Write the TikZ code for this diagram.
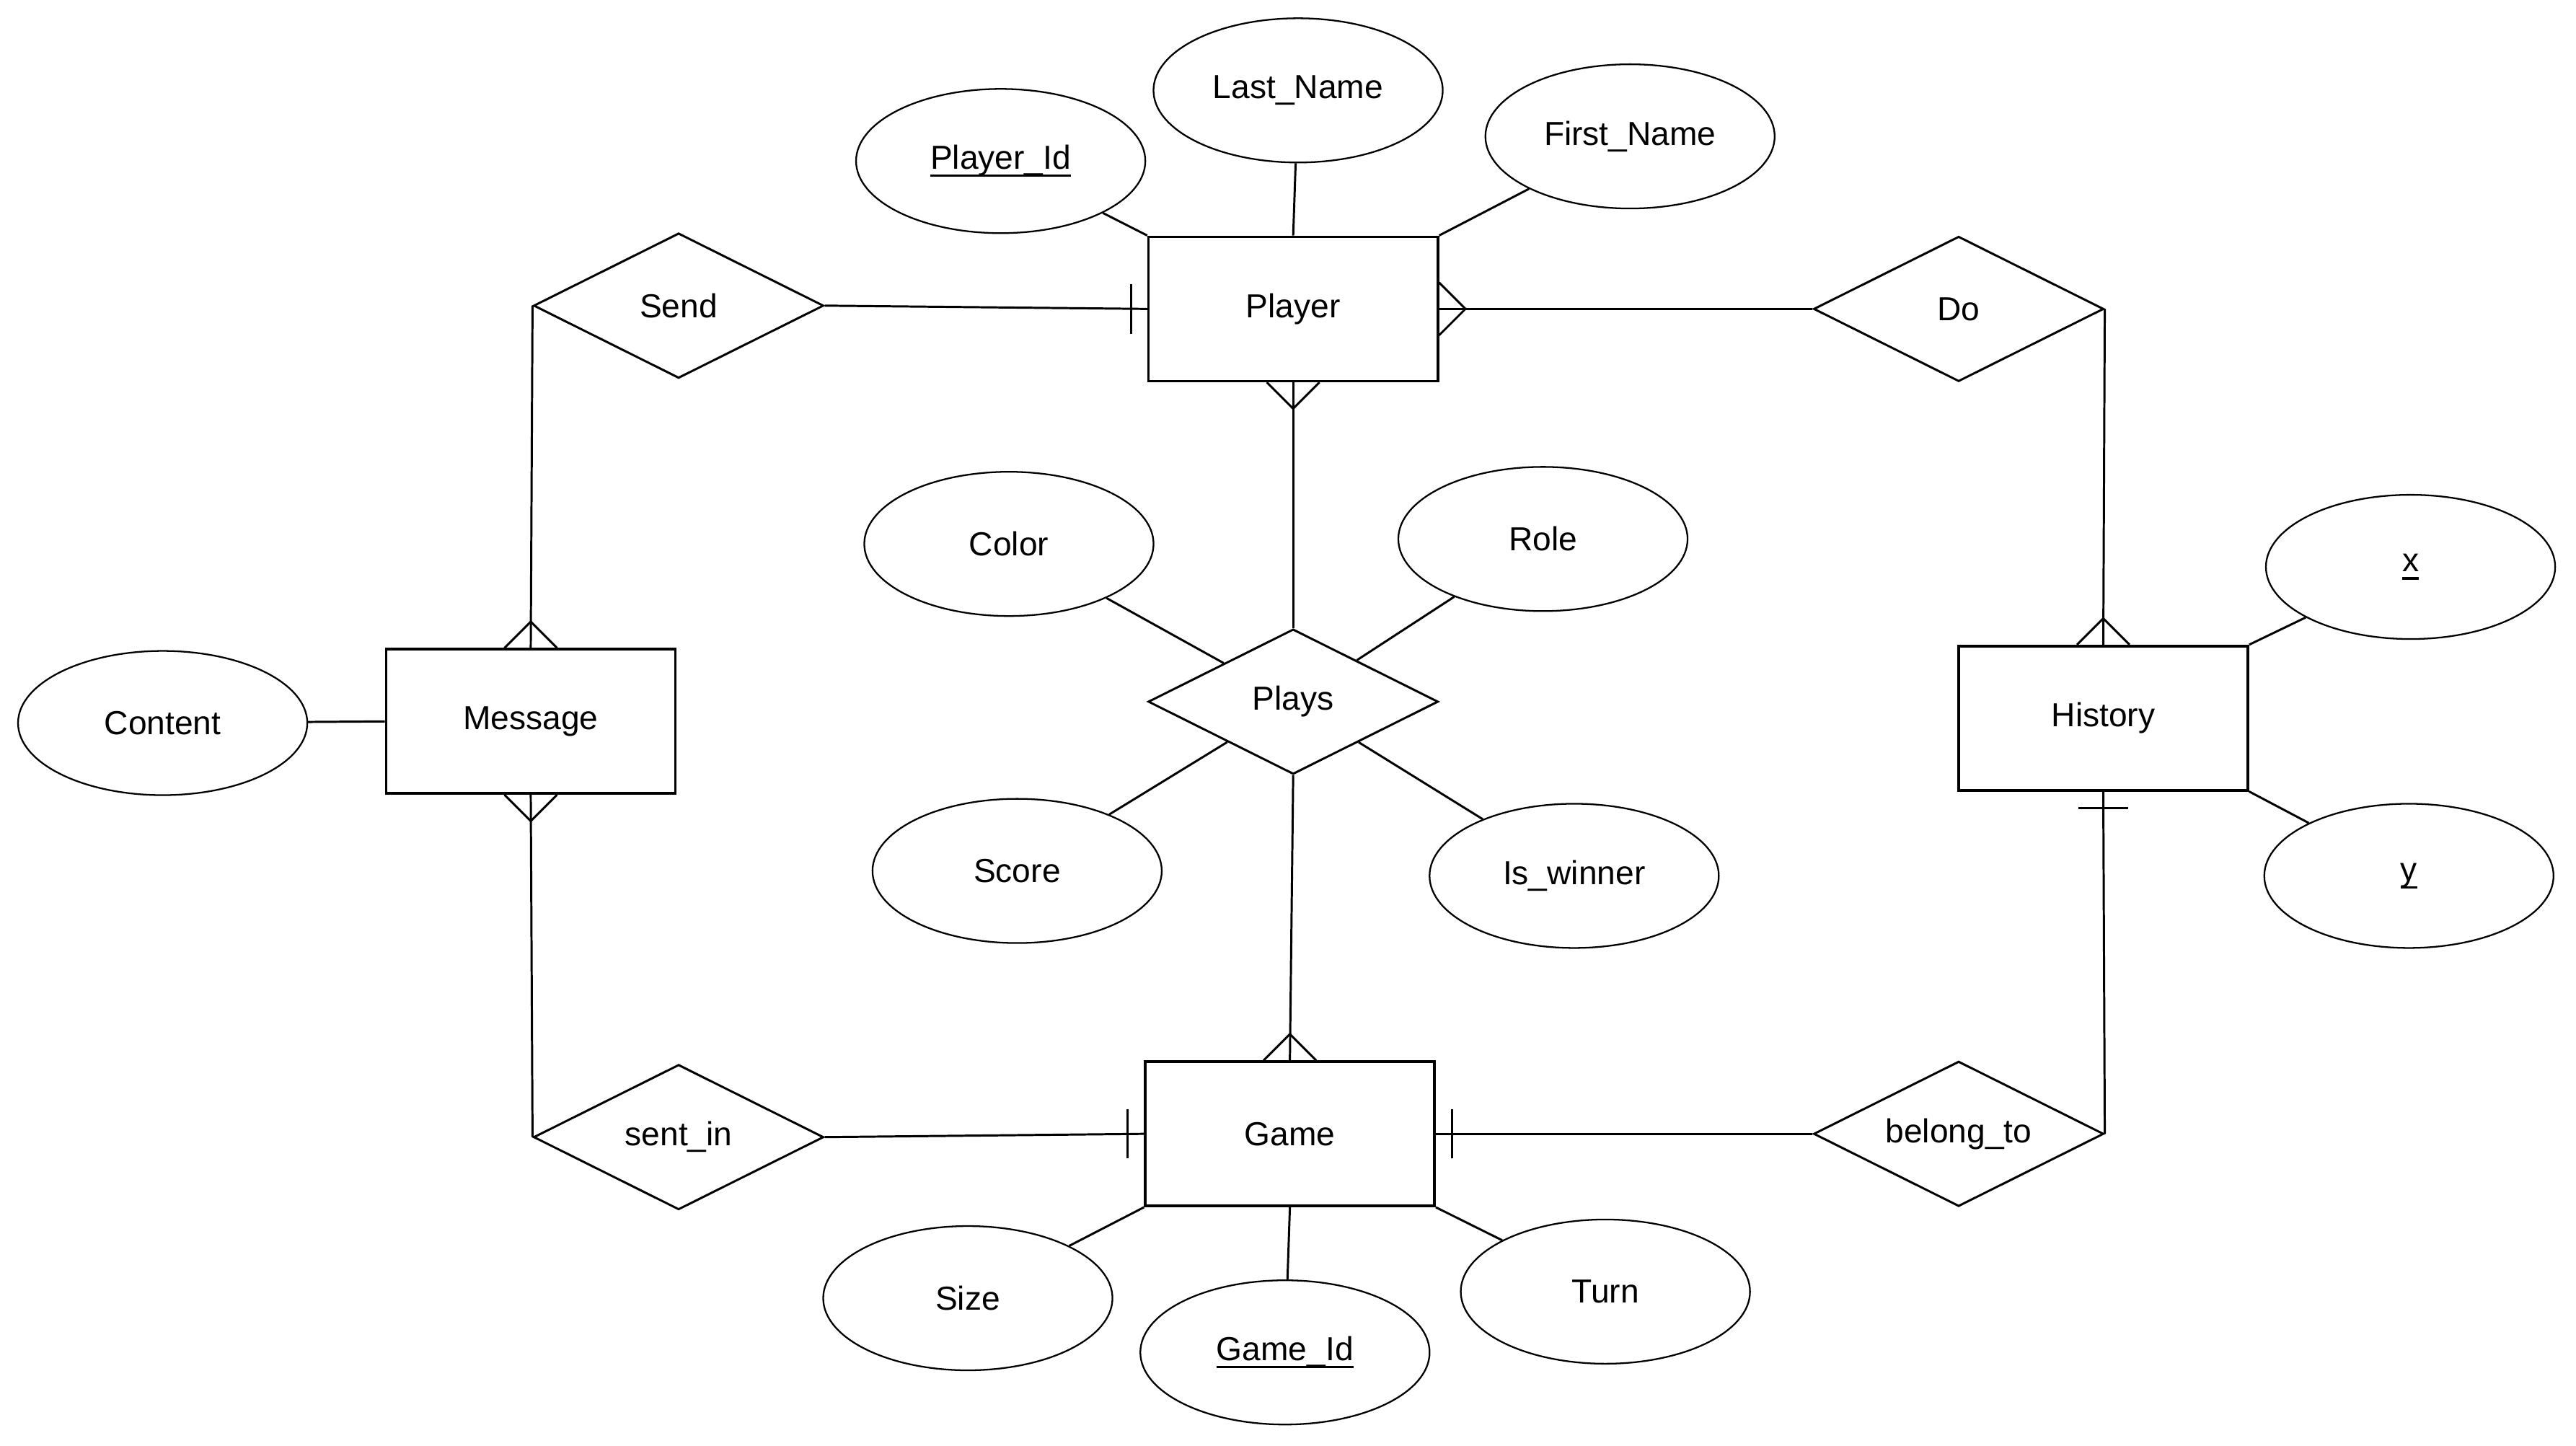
\documentclass[tikz,border=0pt]{standalone}
\usepackage{fontspec}
\setmainfont{Liberation Sans}
\usetikzlibrary{shapes.geometric,calc}
\newcommand\crowfoot[3]{\draw[conn] ($(#1)+(#3)$) -- ($(#1)+(#2)$) -- ($(#1)-(#3)$);}
\newcommand\onebar[3]{\draw[conn] ($(#1)+(#2)+(#3)$) -- ($(#1)+(#2)-(#3)$);}
\newcommand\keyul[1]{\setbox0\hbox{#1}\rlap{\rule[-4.7pt]{\wd0}{1.4pt}}\box0}
\begin{document}
\begin{tikzpicture}[x=0.997pt,y=-0.997pt,
  lbl/.style={font=\fontsize{20.2}{24}\selectfont},
  ent/.style={lbl,draw,line width=1.6pt,minimum width=175.5pt,minimum height=87.5pt,inner sep=0pt},
  rel/.style={lbl,draw,diamond,aspect=2,line width=1.3pt,minimum width=176pt,minimum height=88pt,inner sep=0pt},
  attr/.style={lbl,draw,ellipse,line width=1pt,minimum width=175.5pt,minimum height=87.5pt,inner sep=0pt},
  conn/.style={line width=1.3pt}]
\useasboundingbox (0,0) rectangle (1567.7,879.6);
% entities
\node[ent] (P) at (787,188) {Player};
\node[ent] (M) at (323,439) {Message};
\node[ent] (H) at (1280,437) {History};
\node[ent] (G) at (785,690) {Game};
% relationships
\node[rel] (S) at (413,186) {Send};
\node[rel] (D) at (1192,188) {Do};
\node[rel] (PL) at (787,427) {Plays};
\node[rel] (SI) at (413,692) {sent\_in};
\node[rel] (B) at (1192,690) {belong\_to};
% attributes
\node[attr] (PId) at (609,98) {\keyul{Player\_Id}};
\node[attr] (LN) at (790,55) {Last\_Name};
\node[attr] (FN) at (992,83) {First\_Name};
\node[attr] (C) at (614,331) {Color};
\node[attr] (R) at (939,328) {Role};
\node[attr] (Sc) at (619,530) {Score};
\node[attr] (W) at (958,533) {Is\_winner};
\node[attr] (Ct) at (99,440) {Content};
\node[attr] (X) at (1467,345) {\keyul{x}};
\node[attr] (Y) at (1466,533) {\keyul{y}};
\node[attr] (Sz) at (589,790) {Size};
\node[attr] (GId) at (782,823) {\keyul{Game\_Id}};
\node[attr] (T) at (977,786) {Turn};
% attribute links
\draw[conn] (PId) -- (P.north west);
\draw[conn] (LN) -- (P.north);
\draw[conn] (FN) -- (P.north east);
\draw[conn] (C) -- (PL);
\draw[conn] (R) -- (PL);
\draw[conn] (Sc) -- (PL);
\draw[conn] (W) -- (PL);
\draw[conn] (Ct) -- (M.west);
\draw[conn] (X) -- (H.north east);
\draw[conn] (Y) -- (H.south east);
\draw[conn] (Sz) -- (G.south west);
\draw[conn] (GId) -- (G.south);
\draw[conn] (T) -- (G.south east);
% relationship links
\draw[conn] (S.east) -- (P.west);
\onebar{P.west}{-10,0}{0,15}
\draw[conn] (P.east) -- (D.west);
\crowfoot{P.east}{16,0}{0,16}
\draw[conn] (P.south) -- (PL.north);
\crowfoot{P.south}{0,16}{16,0}
\draw[conn] (S.west) -- (M.north);
\crowfoot{M.north}{0,-16}{16,0}
\draw[conn] (M.south) -- (SI.west);
\crowfoot{M.south}{0,16}{16,0}
\draw[conn] (SI.east) -- (G.west);
\onebar{G.west}{-10,0}{0,15}
\draw[conn] (G.east) -- (B.west);
\onebar{G.east}{10,0}{0,15}
\draw[conn] (B.east) -- (H.south);
\onebar{H.south}{0,10}{15,0}
\draw[conn] (D.east) -- (H.north);
\crowfoot{H.north}{0,-16}{16,0}
\draw[conn] (PL.south) -- (G.north);
\crowfoot{G.north}{0,-16}{16,0}
\end{tikzpicture}
\end{document}
